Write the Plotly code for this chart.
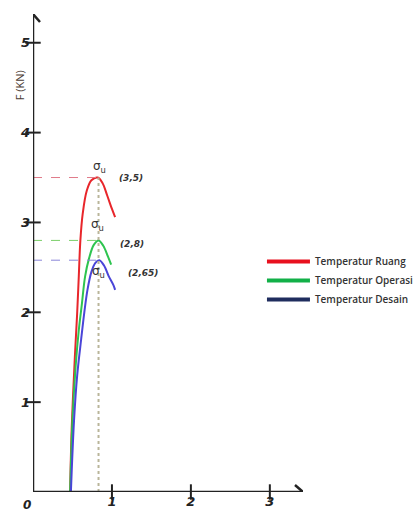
import plotly.graph_objects as go

# ---- data ----
red_x = [0.47, 0.49, 0.53, 0.56, 0.58, 0.60, 0.63, 0.68, 0.74, 0.82, 0.88, 0.94, 1.00, 1.04]
red_y = [0.00, 0.70, 1.50, 2.00, 2.40, 2.80, 3.10, 3.35, 3.47, 3.50, 3.44, 3.30, 3.15, 3.06]
green_x = [0.47, 0.50, 0.54, 0.58, 0.62, 0.66, 0.71, 0.77, 0.83, 0.89, 0.95, 0.99]
green_y = [0.00, 0.80, 1.40, 1.80, 2.10, 2.40, 2.60, 2.75, 2.80, 2.74, 2.62, 2.53]
blue_x = [0.48, 0.52, 0.56, 0.61, 0.65, 0.69, 0.74, 0.79, 0.84, 0.90, 0.96, 1.02, 1.04]
blue_y = [0.00, 0.80, 1.30, 1.70, 2.00, 2.25, 2.45, 2.55, 2.58, 2.52, 2.40, 2.30, 2.25]

series_names = ["Temperatur Ruang", "Temperatur Operasi", "Temperatur Desain"]
peak_x = [0.82, 0.83, 0.84]
peak_y = [3.5, 2.8, 2.58]
peak_labels = ["(3,5)", "(2,8)", "(2,65)"]

x_ticks = [1, 2, 3]
y_ticks = [1, 2, 3, 4, 5]
x_max, y_max = 3.42, 5.32

line_colors = ["#e8262b", "#2ec44f", "#4a45d8"]
legend_colors = ["#e8101e", "#12b048", "#1f2d5e"]
dash_colors = ["#e07a8a", "#7ccf6a", "#8a86d8"]
axis_color = "#222222"

fig = go.Figure()

curves = [(red_x, red_y), (green_x, green_y), (blue_x, blue_y)]
for (xs, ys), c in zip(curves, line_colors):
    fig.add_trace(go.Scatter(x=xs, y=ys, mode="lines", line=dict(color=c, width=2, shape="spline"),
                             showlegend=False, hoverinfo="skip"))

# legend-only entries
for name, c in zip(series_names, legend_colors):
    fig.add_trace(go.Scatter(x=[None], y=[None], mode="lines", name=name,
                             line=dict(color=c, width=4)))

# tick marks crossing axes
fig.add_trace(go.Scatter(x=x_ticks, y=[0] * len(x_ticks), mode="markers", showlegend=False,
                         marker=dict(symbol="line-ns-open", size=11, color=axis_color,
                                     line=dict(color=axis_color, width=2)),
                         hoverinfo="skip", cliponaxis=False))
fig.add_trace(go.Scatter(x=[0] * len(y_ticks), y=y_ticks, mode="markers", showlegend=False,
                         marker=dict(symbol="line-ew-open", size=11, color=axis_color,
                                     line=dict(color=axis_color, width=2)),
                         hoverinfo="skip", cliponaxis=False))

shapes = []
# dashed guides
for px, py, c in zip(peak_x, peak_y, dash_colors):
    shapes.append(dict(type="line", x0=0, x1=px, y0=py, y1=py, xref="x", yref="y",
                       line=dict(color=c, width=1, dash="dash")))
shapes.append(dict(type="line", x0=peak_x[1], x1=peak_x[1], y0=0, y1=peak_y[0], xref="x", yref="y",
                   line=dict(color="#b9b59a", width=2, dash="dot")))
# axes
shapes.append(dict(type="line", x0=0, x1=x_max, y0=0, y1=0, xref="x", yref="y",
                   line=dict(color=axis_color, width=2.5)))
shapes.append(dict(type="line", x0=0, x1=0, y0=0, y1=y_max, xref="x", yref="y",
                   line=dict(color=axis_color, width=2.5)))
# arrow chevrons
for dx, dy in [(-8, 7), (-8, -7)]:
    shapes.append(dict(type="line", xref="x", yref="y", xsizemode="pixel", ysizemode="pixel",
                       xanchor=x_max, yanchor=0, x0=dx, y0=dy, x1=0, y1=0,
                       line=dict(color=axis_color, width=2.5)))
for dx, dy in [(-7, -8), (7, -8)]:
    shapes.append(dict(type="line", xref="x", yref="y", xsizemode="pixel", ysizemode="pixel",
                       xanchor=0, yanchor=y_max, x0=dx, y0=dy, x1=0, y1=0,
                       line=dict(color=axis_color, width=2.5)))

annotations = []
sig_pos = [(0.84, 3.62), (0.82, 2.97), (0.83, 2.45)]
lab_pos = [(1.06, 3.5), (1.08, 2.76), (1.18, 2.44)]
for i in range(3):
    annotations.append(dict(x=sig_pos[i][0], y=sig_pos[i][1],
                            text="σ<sub>u</sub>", showarrow=False, xref="x", yref="y",
                            font=dict(size=12, color="#333", family="DejaVu Sans")))
    annotations.append(dict(x=lab_pos[i][0], y=lab_pos[i][1],
                            text=peak_labels[i], showarrow=False, xref="x", yref="y", xanchor="left",
                            font=dict(size=9, color="#333", family="DejaVu Sans", style="italic", weight="bold")))
annotations.append(dict(x=0, y=0, xref="paper", yref="paper", text="0", showarrow=False,
                        xanchor="center", yanchor="middle", xshift=-6, yshift=-13,
                        font=dict(size=12, color="#222", family="DejaVu Sans", style="italic", weight="bold")))
annotations.append(dict(x=-0.05, y=0.85, xref="paper", yref="paper", text="F (KN)", showarrow=False,
                        xanchor="center", yanchor="middle",
                        textangle=-90, font=dict(size=11, color="#4a3a32", family="Open Sans")))

fig.update_layout(
    width=415, height=513,
    margin=dict(l=33, r=112, t=14, b=21, autoexpand=False),
    paper_bgcolor="white", plot_bgcolor="white",
    xaxis=dict(range=[0, x_max], tickvals=x_ticks, ticktext=[str(v) for v in x_ticks],
               showgrid=False, zeroline=False, showline=False, ticks="",
               tickfont=dict(size=13, color="#222", family="DejaVu Sans", style="italic", weight="bold")),
    yaxis=dict(range=[0, y_max], tickvals=y_ticks, ticktext=[str(v) for v in y_ticks],
               showgrid=False, zeroline=False, showline=False, ticks="", ticklabelstandoff=2,
               tickfont=dict(size=13, color="#222", family="DejaVu Sans", style="italic", weight="bold")),
    legend=dict(x=0.848, y=0.5125, xanchor="left", yanchor="top", bgcolor="rgba(0,0,0,0)",
                itemwidth=43, tracegroupgap=0,
                font=dict(size=10, color="#333", family="Open Sans", weight=600)),
    shapes=shapes, annotations=annotations,
)

fig.write_html("out.html")
